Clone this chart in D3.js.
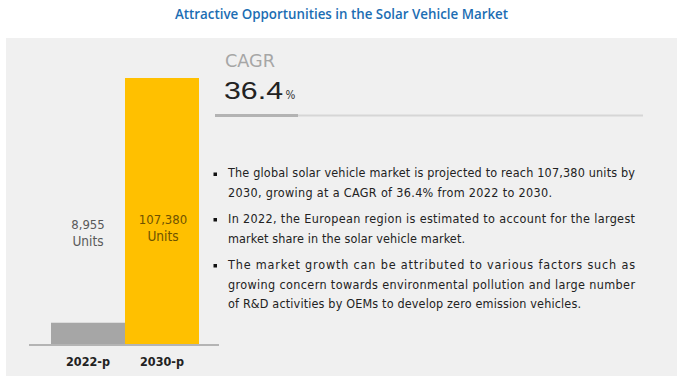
<!DOCTYPE html>
<html>
<head>
<meta charset="utf-8">
<script src="https://cdn.jsdelivr.net/npm/d3@7"></script>
<style>
  body { margin: 0; background: #fff; }
  svg { display: block; }
  text { font-family: "Liberation Sans Narrow", "DejaVu Sans Condensed", "Liberation Sans", sans-serif; }
</style>
</head>
<body>
<svg width="683" height="381"></svg>
<script>
// Chart data
const categories = ['2022-p', '2030-p']
const values = [8955, 107380]
const valueLabels = ['8,955', '107,380']
const unitLabel = 'Units'
const cagr = '36.4'

// Bullet lines: [text, paragraph start?, line width]
const bulletLines = [
  ['The global solar vehicle market is projected to reach 107,380 units by', true, 407],
  ['2030, growing at a CAGR of 36.4% from 2022 to 2030.', false, 324],
  ['In 2022, the European region is estimated to account for the largest', true, 407],
  ['market share in the solar vehicle market.', false, 237],
  ['The market growth can be attributed to various factors such as', true, 407],
  ['growing concern towards environmental pollution and large number', false, 407],
  ['of R&D activities by OEMs to develop zero emission vehicles.', false, 353]
]

function draw() {
  const svg = d3.select('svg')

  // Title
  svg.append('text')
    .attr('x', 341.5)
    .attr('y', 19)
    .attr('text-anchor', 'middle')
    .attr('textLength', 333)
    .attr('lengthAdjust', 'spacingAndGlyphs')
    .style('font-family', '"Open Sans", sans-serif')
    .style('font-size', '13.5px')
    .style('font-weight', 600)
    .style('fill', '#1b6db3')
    .text('Attractive Opportunities in the Solar Vehicle Market')

  // Grey panel
  svg.append('rect')
    .attr('x', 6)
    .attr('y', 38)
    .attr('width', 671)
    .attr('height', 338)
    .style('fill', '#f0f0f0')

  // Scales
  const baseY = 345
  const yScale = d3.scaleLinear()
    .domain([0, d3.max(values)])
    .range([baseY, 78])

  const xScale = d3.scaleBand()
    .domain(categories)
    .range([51, 199])
    .padding(0)

  const color = d3.scaleOrdinal(categories, ['#a6a6a6', '#ffc000'])

  // Bars
  svg.selectAll('.bar')
    .data(categories)
    .enter()
    .append('rect')
    .attr('class', 'bar')
    .attr('x', d => xScale(d))
    .attr('y', (d, i) => yScale(values[i]))
    .attr('width', xScale.bandwidth())
    .attr('height', (d, i) => baseY - yScale(values[i]))
    .style('fill', d => color(d))

  // Baseline
  svg.append('line')
    .attr('x1', 29)
    .attr('x2', 219)
    .attr('y1', baseY)
    .attr('y2', baseY)
    .style('stroke', '#b4b4b4')
    .style('stroke-width', 2)

  // Category labels (bottom axis without line/ticks)
  const axis = svg.append('g')
    .attr('transform', `translate(0, ${baseY})`)
    .call(d3.axisBottom(xScale).tickSize(0).tickPadding(12))
  axis.select('.domain').remove()
  axis.selectAll('text')
    .style('font-family', '"DejaVu Sans Condensed", sans-serif')
    .style('font-size', '12.5px')
    .style('font-weight', 'bold')
    .style('fill', '#222')

  // Value labels: small bar gets label above, big bar inside
  const labelY = [229, 224]
  const labelColor = ['#595959', '#6e5200']
  categories.forEach((c, i) => {
    const cx = i === 0 ? 88 : xScale(c) + xScale.bandwidth() / 2 + 1
    const g = svg.append('g')
    g.append('text')
      .attr('x', cx)
      .attr('y', labelY[i])
      .attr('text-anchor', 'middle')
      .style('font-family', '"DejaVu Sans Condensed", sans-serif')
      .style('font-size', '13px')
      .style('fill', labelColor[i])
      .text(valueLabels[i])
    g.append('text')
      .attr('x', cx)
      .attr('y', labelY[i] + 17)
      .attr('text-anchor', 'middle')
      .style('font-size', '13.5px')
      .style('fill', labelColor[i])
      .text(unitLabel)
  })

  // CAGR block
  svg.append('text')
    .attr('x', 225)
    .attr('y', 67)
    .attr('textLength', 50)
    .attr('lengthAdjust', 'spacingAndGlyphs')
    .style('font-size', '18px')
    .style('fill', '#a6a6a6')
    .text('CAGR')

  svg.append('text')
    .attr('x', 224)
    .attr('y', 98.5)
    .attr('textLength', 59)
    .attr('lengthAdjust', 'spacingAndGlyphs')
    .style('font-family', '"Liberation Sans", sans-serif')
    .style('font-size', '23px')
    .style('fill', '#222')
    .text(cagr)

  svg.append('text')
    .attr('x', 285.5)
    .attr('y', 98.5)
    .style('font-size', '11.5px')
    .style('fill', '#333')
    .text('%')

  svg.append('line')
    .attr('x1', 215)
    .attr('x2', 643)
    .attr('y1', 115.5)
    .attr('y2', 115.5)
    .style('stroke', '#d6d6d6')
    .style('stroke-width', 2)

  svg.append('line')
    .attr('x1', 215)
    .attr('x2', 298)
    .attr('y1', 115.5)
    .attr('y2', 115.5)
    .style('stroke', '#b3b3b3')
    .style('stroke-width', 3)

  // Bullet text
  const lineY = [177, 197, 222.5, 242.5, 268.5, 288.5, 307.5]
  bulletLines.forEach(([txt, first, len], i) => {
    if (first) {
      svg.append('rect')
        .attr('x', 213.5)
        .attr('y', lineY[i] - 4.5)
        .attr('width', 3.5)
        .attr('height', 3.5)
        .style('fill', '#111')
    }
    svg.append('text')
      .attr('x', 228)
      .attr('y', lineY[i])
      .attr('textLength', len)
      .attr('lengthAdjust', 'spacing')
      .style('font-family', '"DejaVu Sans Condensed", sans-serif')
      .style('font-size', '12.5px')
      .style('fill', '#222')
      .text(txt)
  })
}

draw()
</script>
</body>
</html>
